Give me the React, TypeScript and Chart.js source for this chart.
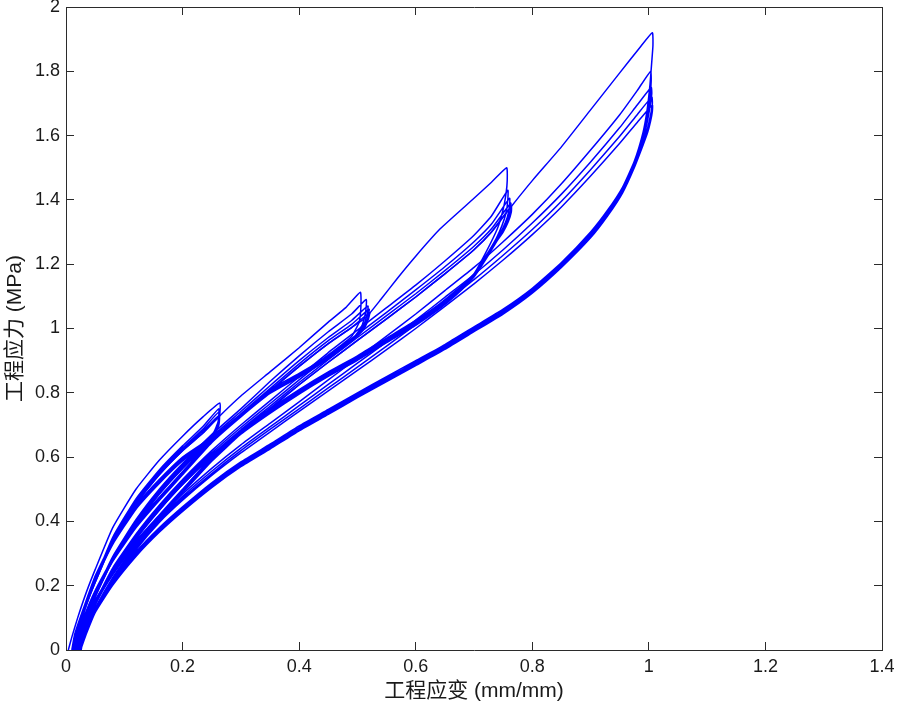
import React, { useEffect, useRef } from 'react';
import { Chart, registerables } from 'chart.js';

Chart.register(...registerables);

type Pt = [number, number];

const xTickValues = [0, 0.2, 0.4, 0.6, 0.8, 1, 1.2, 1.4];
const xTickLabels = ['0', '0.2', '0.4', '0.6', '0.8', '1', '1.2', '1.4'];
const yTickValues = [0, 0.2, 0.4, 0.6, 0.8, 1, 1.2, 1.4, 1.6, 1.8, 2];
const yTickLabels = ['0', '0.2', '0.4', '0.6', '0.8', '1', '1.2', '1.4', '1.6', '1.8', '2'];
const xAxisTitle = '工程应变 (mm/mm)';
const yAxisTitle = '工程应力 (MPa)';

// ---- Level 1 (max strain ~0.26) ----
const level1Cycle1: Pt[] = [
  [0.004, 0], [0.01, 0.04], [0.02, 0.1], [0.035, 0.18], [0.05, 0.25], [0.08, 0.38], [0.12, 0.5], [0.16, 0.59], [0.2, 0.665], [0.235, 0.725], [0.264, 0.768],
  [0.263, 0.72], [0.255, 0.68], [0.24, 0.65], [0.2, 0.6], [0.16, 0.53], [0.12, 0.45], [0.08, 0.34], [0.05, 0.23], [0.03, 0.13], [0.015, 0.05], [0.01, 0],
];
const level1Cycle2: Pt[] = [
  [0.01, 0], [0.02, 0.07], [0.035, 0.15], [0.05, 0.22], [0.08, 0.35], [0.12, 0.47], [0.16, 0.56], [0.2, 0.635], [0.235, 0.695], [0.262, 0.75],
  [0.261, 0.71], [0.253, 0.675], [0.24, 0.645], [0.2, 0.595], [0.16, 0.525], [0.12, 0.445], [0.08, 0.335], [0.05, 0.225], [0.03, 0.125], [0.016, 0.05], [0.011, 0],
];
const level1Cycle3: Pt[] = [
  [0.011, 0], [0.021, 0.07], [0.035, 0.145], [0.05, 0.215], [0.08, 0.345], [0.12, 0.465], [0.16, 0.553], [0.2, 0.628], [0.235, 0.687], [0.262, 0.74],
  [0.261, 0.705], [0.253, 0.672], [0.24, 0.642], [0.2, 0.592], [0.16, 0.522], [0.12, 0.442], [0.08, 0.332], [0.05, 0.222], [0.03, 0.122], [0.017, 0.05], [0.012, 0],
];
const level1Cycle4: Pt[] = [
  [0.012, 0], [0.022, 0.07], [0.035, 0.142], [0.05, 0.212], [0.08, 0.34], [0.12, 0.46], [0.16, 0.549], [0.2, 0.624], [0.235, 0.681], [0.263, 0.73],
  [0.262, 0.7], [0.254, 0.67], [0.24, 0.64], [0.2, 0.59], [0.16, 0.52], [0.12, 0.44], [0.08, 0.33], [0.05, 0.22], [0.03, 0.12], [0.017, 0.048], [0.012, 0],
];
const level1Cycle5: Pt[] = [
  [0.012, 0], [0.022, 0.07], [0.035, 0.14], [0.05, 0.21], [0.08, 0.335], [0.12, 0.455], [0.16, 0.545], [0.2, 0.62], [0.235, 0.675], [0.263, 0.725],
  [0.262, 0.697], [0.254, 0.668], [0.24, 0.638], [0.2, 0.588], [0.16, 0.518], [0.12, 0.438], [0.08, 0.328], [0.05, 0.218], [0.03, 0.118], [0.018, 0.048], [0.013, 0],
];

// ---- Level 2 (max strain ~0.51) ----
const level2Cycle1: Pt[] = [
  [0.013, 0], [0.023, 0.07], [0.035, 0.14], [0.05, 0.21], [0.08, 0.335], [0.12, 0.455], [0.16, 0.545], [0.2, 0.62], [0.235, 0.675], [0.262, 0.725],
  [0.3, 0.79], [0.35, 0.865], [0.4, 0.94], [0.45, 1.02], [0.48, 1.065], [0.505, 1.113],
  [0.506, 1.07], [0.503, 1.02], [0.49, 0.975], [0.47, 0.945], [0.44, 0.905], [0.4, 0.86], [0.35, 0.81], [0.3, 0.735], [0.25, 0.655], [0.2, 0.555], [0.16, 0.475], [0.12, 0.39], [0.08, 0.285], [0.05, 0.185], [0.03, 0.1], [0.02, 0.045], [0.015, 0],
];
const level2Cycle2: Pt[] = [
  [0.015, 0], [0.025, 0.06], [0.035, 0.11], [0.05, 0.175], [0.08, 0.29], [0.12, 0.405], [0.16, 0.5], [0.2, 0.58], [0.25, 0.67], [0.3, 0.75], [0.35, 0.835], [0.4, 0.915], [0.45, 0.99], [0.49, 1.045], [0.515, 1.09],
  [0.514, 1.05], [0.508, 1.01], [0.495, 0.975], [0.47, 0.94], [0.44, 0.9], [0.4, 0.855], [0.35, 0.805], [0.3, 0.732], [0.25, 0.652], [0.2, 0.552], [0.16, 0.472], [0.12, 0.387], [0.08, 0.282], [0.05, 0.182], [0.03, 0.097], [0.02, 0.042], [0.016, 0],
];
const level2Cycle3: Pt[] = [
  [0.016, 0], [0.026, 0.06], [0.036, 0.108], [0.05, 0.172], [0.08, 0.286], [0.12, 0.4], [0.16, 0.495], [0.2, 0.575], [0.25, 0.663], [0.3, 0.742], [0.35, 0.822], [0.4, 0.9], [0.45, 0.972], [0.49, 1.025], [0.518, 1.07],
  [0.516, 1.04], [0.509, 1.005], [0.495, 0.972], [0.47, 0.937], [0.44, 0.897], [0.4, 0.852], [0.35, 0.802], [0.3, 0.729], [0.25, 0.649], [0.2, 0.549], [0.16, 0.469], [0.12, 0.384], [0.08, 0.279], [0.05, 0.179], [0.03, 0.094], [0.02, 0.04], [0.017, 0],
];
const level2Cycle4: Pt[] = [
  [0.017, 0], [0.027, 0.06], [0.037, 0.106], [0.05, 0.168], [0.08, 0.282], [0.12, 0.395], [0.16, 0.49], [0.2, 0.57], [0.25, 0.657], [0.3, 0.735], [0.35, 0.813], [0.4, 0.89], [0.45, 0.962], [0.49, 1.013], [0.52, 1.06],
  [0.518, 1.035], [0.51, 1.0], [0.495, 0.97], [0.47, 0.935], [0.44, 0.895], [0.4, 0.85], [0.35, 0.8], [0.3, 0.727], [0.25, 0.647], [0.2, 0.547], [0.16, 0.467], [0.12, 0.382], [0.08, 0.277], [0.05, 0.177], [0.03, 0.092], [0.021, 0.04], [0.018, 0],
];
const level2Cycle5: Pt[] = [
  [0.018, 0], [0.028, 0.06], [0.038, 0.104], [0.05, 0.165], [0.08, 0.278], [0.12, 0.39], [0.16, 0.485], [0.2, 0.565], [0.25, 0.652], [0.3, 0.73], [0.35, 0.806], [0.4, 0.882], [0.45, 0.953], [0.49, 1.003], [0.521, 1.05],
  [0.519, 1.03], [0.511, 0.998], [0.495, 0.968], [0.47, 0.933], [0.44, 0.893], [0.4, 0.848], [0.35, 0.798], [0.3, 0.725], [0.25, 0.645], [0.2, 0.545], [0.16, 0.465], [0.12, 0.38], [0.08, 0.275], [0.05, 0.175], [0.03, 0.09], [0.022, 0.04], [0.018, 0],
];

// ---- Level 3 (max strain ~0.76) ----
const level3Cycle1: Pt[] = [
  [0.018, 0], [0.028, 0.06], [0.038, 0.104], [0.05, 0.165], [0.08, 0.278], [0.12, 0.39], [0.16, 0.485], [0.2, 0.565], [0.25, 0.652], [0.3, 0.73], [0.35, 0.806], [0.4, 0.882], [0.45, 0.953], [0.49, 1.003], [0.515, 1.035],
  [0.54, 1.09], [0.568, 1.155], [0.6, 1.225], [0.642, 1.31], [0.7, 1.405], [0.73, 1.455], [0.756, 1.5],
  [0.757, 1.46], [0.755, 1.42], [0.75, 1.37], [0.74, 1.31], [0.72, 1.235], [0.7, 1.17], [0.67, 1.12], [0.64, 1.075], [0.6, 1.025], [0.55, 0.97], [0.5, 0.915], [0.45, 0.865], [0.4, 0.81], [0.35, 0.75], [0.3, 0.685], [0.25, 0.6], [0.2, 0.5], [0.16, 0.42], [0.12, 0.34], [0.08, 0.245], [0.05, 0.155], [0.03, 0.075], [0.023, 0.03], [0.019, 0],
];
const level3Cycle2: Pt[] = [
  [0.019, 0], [0.03, 0.065], [0.04, 0.11], [0.05, 0.15], [0.08, 0.255], [0.12, 0.36], [0.16, 0.45], [0.2, 0.53], [0.25, 0.62], [0.3, 0.7], [0.35, 0.775], [0.4, 0.85], [0.45, 0.925], [0.5, 0.995], [0.55, 1.065], [0.6, 1.135], [0.65, 1.21], [0.7, 1.29], [0.73, 1.35], [0.758, 1.43],
  [0.758, 1.4], [0.755, 1.36], [0.748, 1.32], [0.738, 1.28], [0.72, 1.225], [0.7, 1.17], [0.67, 1.115], [0.64, 1.07], [0.6, 1.02], [0.55, 0.965], [0.5, 0.91], [0.45, 0.86], [0.4, 0.805], [0.35, 0.745], [0.3, 0.68], [0.25, 0.596], [0.2, 0.497], [0.16, 0.417], [0.12, 0.337], [0.08, 0.242], [0.05, 0.152], [0.03, 0.073], [0.024, 0.03], [0.02, 0],
];
const level3Cycle3: Pt[] = [
  [0.02, 0], [0.031, 0.065], [0.041, 0.108], [0.05, 0.146], [0.08, 0.25], [0.12, 0.355], [0.16, 0.445], [0.2, 0.525], [0.25, 0.613], [0.3, 0.692], [0.35, 0.766], [0.4, 0.84], [0.45, 0.913], [0.5, 0.982], [0.55, 1.05], [0.6, 1.12], [0.65, 1.192], [0.7, 1.27], [0.73, 1.325], [0.761, 1.405],
  [0.761, 1.38], [0.757, 1.345], [0.749, 1.31], [0.738, 1.275], [0.72, 1.22], [0.7, 1.166], [0.67, 1.111], [0.64, 1.066], [0.6, 1.016], [0.55, 0.962], [0.5, 0.907], [0.45, 0.857], [0.4, 0.802], [0.35, 0.742], [0.3, 0.677], [0.25, 0.593], [0.2, 0.494], [0.16, 0.414], [0.12, 0.334], [0.08, 0.239], [0.05, 0.149], [0.03, 0.07], [0.025, 0.03], [0.021, 0],
];
const level3Cycle4: Pt[] = [
  [0.021, 0], [0.032, 0.065], [0.042, 0.106], [0.05, 0.143], [0.08, 0.246], [0.12, 0.35], [0.16, 0.44], [0.2, 0.52], [0.25, 0.607], [0.3, 0.685], [0.35, 0.758], [0.4, 0.832], [0.45, 0.903], [0.5, 0.972], [0.55, 1.04], [0.6, 1.108], [0.65, 1.18], [0.7, 1.256], [0.73, 1.31], [0.763, 1.39],
  [0.763, 1.37], [0.758, 1.338], [0.75, 1.305], [0.738, 1.272], [0.72, 1.217], [0.7, 1.163], [0.67, 1.108], [0.64, 1.063], [0.6, 1.013], [0.55, 0.959], [0.5, 0.904], [0.45, 0.854], [0.4, 0.799], [0.35, 0.739], [0.3, 0.674], [0.25, 0.59], [0.2, 0.491], [0.16, 0.411], [0.12, 0.331], [0.08, 0.236], [0.05, 0.146], [0.03, 0.068], [0.025, 0.03], [0.021, 0],
];
const level3Cycle5: Pt[] = [
  [0.021, 0], [0.032, 0.063], [0.042, 0.104], [0.05, 0.14], [0.08, 0.242], [0.12, 0.346], [0.16, 0.435], [0.2, 0.515], [0.25, 0.602], [0.3, 0.679], [0.35, 0.751], [0.4, 0.825], [0.45, 0.895], [0.5, 0.963], [0.55, 1.03], [0.6, 1.098], [0.65, 1.17], [0.7, 1.245], [0.73, 1.3], [0.764, 1.38],
  [0.764, 1.362], [0.759, 1.333], [0.75, 1.3], [0.738, 1.268], [0.72, 1.214], [0.7, 1.16], [0.67, 1.105], [0.64, 1.06], [0.6, 1.01], [0.55, 0.956], [0.5, 0.901], [0.45, 0.851], [0.4, 0.796], [0.35, 0.736], [0.3, 0.671], [0.25, 0.587], [0.2, 0.488], [0.16, 0.408], [0.12, 0.328], [0.08, 0.233], [0.05, 0.143], [0.03, 0.066], [0.025, 0.03], [0.022, 0],
];

// ---- Level 4 (max strain ~1.0) ----
const level4Cycle1: Pt[] = [
  [0.022, 0], [0.032, 0.063], [0.042, 0.104], [0.05, 0.14], [0.08, 0.242], [0.12, 0.346], [0.16, 0.435], [0.2, 0.515], [0.25, 0.602], [0.3, 0.679], [0.35, 0.751], [0.4, 0.825], [0.45, 0.895], [0.5, 0.963], [0.55, 1.03], [0.6, 1.098], [0.65, 1.17], [0.7, 1.245], [0.73, 1.3], [0.762, 1.375],
  [0.8, 1.46], [0.85, 1.565], [0.9, 1.68], [0.95, 1.795], [0.985, 1.875], [1.006, 1.92],
  [1.007, 1.88], [1.005, 1.83], [1.002, 1.76], [0.997, 1.68], [0.99, 1.61], [0.975, 1.52], [0.955, 1.44], [0.93, 1.37], [0.9, 1.3], [0.85, 1.205], [0.8, 1.125], [0.75, 1.06], [0.7, 1.005], [0.65, 0.95], [0.6, 0.9], [0.55, 0.85], [0.5, 0.8], [0.45, 0.748], [0.4, 0.697], [0.35, 0.64], [0.3, 0.585], [0.25, 0.52], [0.2, 0.445], [0.16, 0.38], [0.12, 0.305], [0.08, 0.215], [0.05, 0.13], [0.03, 0.05], [0.022, 0],
];
const level4Cycle2: Pt[] = [
  [0.022, 0], [0.033, 0.06], [0.05, 0.13], [0.08, 0.225], [0.12, 0.33], [0.16, 0.415], [0.2, 0.485], [0.25, 0.565], [0.3, 0.638], [0.35, 0.705], [0.4, 0.772], [0.45, 0.84], [0.5, 0.908], [0.55, 0.976], [0.6, 1.045], [0.65, 1.118], [0.7, 1.19], [0.75, 1.27], [0.8, 1.355], [0.85, 1.45], [0.9, 1.555], [0.95, 1.665], [0.98, 1.74], [1.003, 1.8],
  [1.004, 1.77], [1.002, 1.72], [0.997, 1.66], [0.99, 1.6], [0.975, 1.515], [0.955, 1.435], [0.93, 1.365], [0.9, 1.295], [0.85, 1.2], [0.8, 1.12], [0.75, 1.055], [0.7, 1.0], [0.65, 0.945], [0.6, 0.895], [0.55, 0.845], [0.5, 0.795], [0.45, 0.743], [0.4, 0.692], [0.35, 0.635], [0.3, 0.58], [0.25, 0.515], [0.2, 0.441], [0.16, 0.376], [0.12, 0.301], [0.08, 0.211], [0.05, 0.126], [0.03, 0.047], [0.023, 0],
];
const level4Cycle3: Pt[] = [
  [0.023, 0], [0.034, 0.058], [0.05, 0.125], [0.08, 0.22], [0.12, 0.323], [0.16, 0.408], [0.2, 0.478], [0.25, 0.556], [0.3, 0.628], [0.35, 0.694], [0.4, 0.76], [0.45, 0.826], [0.5, 0.892], [0.55, 0.958], [0.6, 1.026], [0.65, 1.097], [0.7, 1.168], [0.75, 1.245], [0.8, 1.328], [0.85, 1.418], [0.9, 1.518], [0.95, 1.625], [0.98, 1.695], [1.004, 1.75],
  [1.005, 1.73], [1.002, 1.69], [0.997, 1.64], [0.99, 1.59], [0.975, 1.51], [0.955, 1.43], [0.93, 1.36], [0.9, 1.29], [0.85, 1.196], [0.8, 1.116], [0.75, 1.051], [0.7, 0.996], [0.65, 0.941], [0.6, 0.891], [0.55, 0.841], [0.5, 0.791], [0.45, 0.739], [0.4, 0.688], [0.35, 0.631], [0.3, 0.576], [0.25, 0.511], [0.2, 0.437], [0.16, 0.372], [0.12, 0.297], [0.08, 0.207], [0.05, 0.122], [0.03, 0.044], [0.024, 0],
];
const level4Cycle4: Pt[] = [
  [0.024, 0], [0.035, 0.056], [0.05, 0.12], [0.08, 0.215], [0.12, 0.317], [0.16, 0.402], [0.2, 0.472], [0.25, 0.549], [0.3, 0.62], [0.35, 0.686], [0.4, 0.75], [0.45, 0.815], [0.5, 0.88], [0.55, 0.945], [0.6, 1.012], [0.65, 1.082], [0.7, 1.152], [0.75, 1.228], [0.8, 1.308], [0.85, 1.396], [0.9, 1.494], [0.95, 1.598], [0.98, 1.665], [1.005, 1.72],
  [1.006, 1.7], [1.003, 1.665], [0.998, 1.625], [0.99, 1.58], [0.975, 1.505], [0.955, 1.426], [0.93, 1.356], [0.9, 1.286], [0.85, 1.193], [0.8, 1.113], [0.75, 1.048], [0.7, 0.993], [0.65, 0.938], [0.6, 0.888], [0.55, 0.838], [0.5, 0.788], [0.45, 0.736], [0.4, 0.685], [0.35, 0.628], [0.3, 0.573], [0.25, 0.508], [0.2, 0.434], [0.16, 0.369], [0.12, 0.294], [0.08, 0.204], [0.05, 0.119], [0.03, 0.041], [0.025, 0],
];
const level4Cycle5: Pt[] = [
  [0.025, 0], [0.036, 0.055], [0.05, 0.116], [0.08, 0.21], [0.12, 0.312], [0.16, 0.397], [0.2, 0.466], [0.25, 0.543], [0.3, 0.613], [0.35, 0.678], [0.4, 0.742], [0.45, 0.806], [0.5, 0.87], [0.55, 0.934], [0.6, 1.0], [0.65, 1.069], [0.7, 1.139], [0.75, 1.213], [0.8, 1.292], [0.85, 1.378], [0.9, 1.474], [0.95, 1.576], [0.98, 1.641], [1.006, 1.695],
  [1.006, 1.675], [1.003, 1.645], [0.998, 1.61], [0.99, 1.57], [0.975, 1.5], [0.955, 1.422], [0.93, 1.352], [0.9, 1.282], [0.85, 1.19], [0.8, 1.11], [0.75, 1.045], [0.7, 0.99], [0.65, 0.935], [0.6, 0.885], [0.55, 0.835], [0.5, 0.785], [0.45, 0.733], [0.4, 0.682], [0.35, 0.625], [0.3, 0.57], [0.25, 0.505], [0.2, 0.431], [0.16, 0.366], [0.12, 0.291], [0.08, 0.201], [0.05, 0.116], [0.03, 0.038], [0.026, 0],
];

const levelPaths: Pt[][][] = [
  [level1Cycle1, level1Cycle2, level1Cycle3, level1Cycle4, level1Cycle5],
  [level2Cycle1, level2Cycle2, level2Cycle3, level2Cycle4, level2Cycle5],
  [level3Cycle1, level3Cycle2, level3Cycle3, level3Cycle4, level3Cycle5],
  [level4Cycle1, level4Cycle2, level4Cycle3, level4Cycle4, level4Cycle5],
];

const LINE_COLOR = '#0000ff';
const AXIS_COLOR = '#2b2b2b';
const TEXT_COLOR = '#1a1a1a';
const FONT_FAMILY = '"Liberation Sans", Arial, "Noto Sans CJK SC", sans-serif';

const zeroPad = (s: any) => {
  s.paddingLeft = 0;
  s.paddingRight = 0;
  s.paddingTop = 0;
  s.paddingBottom = 0;
};

export default function App() {
  const canvasRef = useRef<HTMLCanvasElement | null>(null);

  useEffect(() => {
    const canvas = canvasRef.current;
    if (!canvas) return;

    const datasets = levelPaths.map((cycles, i) => ({
      label: `level ${i + 1}`,
      data: cycles.flat().map(([x, y]) => ({ x, y })),
      showLine: true,
      borderColor: LINE_COLOR,
      backgroundColor: LINE_COLOR,
      borderWidth: 1.5,
      pointRadius: 0,
      tension: 0.15,
      fill: false,
    }));

    const labelFor = (vals: number[], labels: string[]) => (v: number | string) => {
      const idx = vals.findIndex((t) => Math.abs(t - Number(v)) < 1e-9);
      return idx >= 0 ? labels[idx] : '';
    };

    const gridOpts = {
      drawOnChartArea: false,
      drawTicks: true,
      tickLength: -8,
      color: AXIS_COLOR,
      tickColor: AXIS_COLOR,
      lineWidth: 1,
    };
    const borderOpts = { display: true, color: AXIS_COLOR, width: 1 };
    const tickFont = { family: FONT_FAMILY, size: 18 };
    const titleFont = { family: FONT_FAMILY, size: 21 };

    const chart = new Chart(canvas, {
      type: 'scatter',
      data: { datasets },
      options: {
        animation: false,
        responsive: false,
        maintainAspectRatio: false,
        devicePixelRatio: 1,
        layout: { padding: { top: 7, right: 16, left: 0, bottom: 0 } },
        plugins: { legend: { display: false }, tooltip: { enabled: false } },
        scales: {
          x: {
            type: 'linear',
            position: 'bottom',
            min: 0,
            max: 1.4,
            afterBuildTicks: (s: any) => { s.ticks = xTickValues.map((v) => ({ value: v })); },
            afterFit: (s: any) => { s.height = 55; zeroPad(s); },
            ticks: { callback: labelFor(xTickValues, xTickLabels), font: tickFont, color: TEXT_COLOR, padding: 14, maxRotation: 0, autoSkip: false },
            grid: gridOpts,
            border: borderOpts,
            title: { display: true, text: xAxisTitle, font: titleFont, color: TEXT_COLOR, padding: { top: 0, bottom: 1 } },
          },
          x2: {
            type: 'linear',
            position: 'top',
            min: 0,
            max: 1.4,
            afterBuildTicks: (s: any) => { s.ticks = xTickValues.map((v) => ({ value: v })); },
            afterFit: (s: any) => { s.height = 0; zeroPad(s); },
            ticks: { display: false },
            grid: gridOpts,
            border: borderOpts,
          },
          y: {
            type: 'linear',
            position: 'left',
            min: 0,
            max: 2,
            afterBuildTicks: (s: any) => { s.ticks = yTickValues.map((v) => ({ value: v })); },
            afterFit: (s: any) => { s.width = 66; zeroPad(s); },
            ticks: { callback: labelFor(yTickValues, yTickLabels), font: tickFont, color: TEXT_COLOR, padding: 14, autoSkip: false },
            grid: gridOpts,
            border: borderOpts,
            title: { display: true, text: yAxisTitle, font: titleFont, color: TEXT_COLOR, padding: { top: 3, bottom: 0 } },
          },
          y2: {
            type: 'linear',
            position: 'right',
            min: 0,
            max: 2,
            afterBuildTicks: (s: any) => { s.ticks = yTickValues.map((v) => ({ value: v })); },
            afterFit: (s: any) => { s.width = 0; zeroPad(s); },
            ticks: { display: false },
            grid: gridOpts,
            border: borderOpts,
          },
        },
      } as any,
    });

    return () => chart.destroy();
  }, []);

  return (
    <div style={{ position: 'absolute', left: 0, top: 0, width: 898, height: 705, background: '#fff' }}>
      <canvas ref={canvasRef} width={898} height={705} style={{ display: 'block', width: 898, height: 705 }} />
    </div>
  );
}
